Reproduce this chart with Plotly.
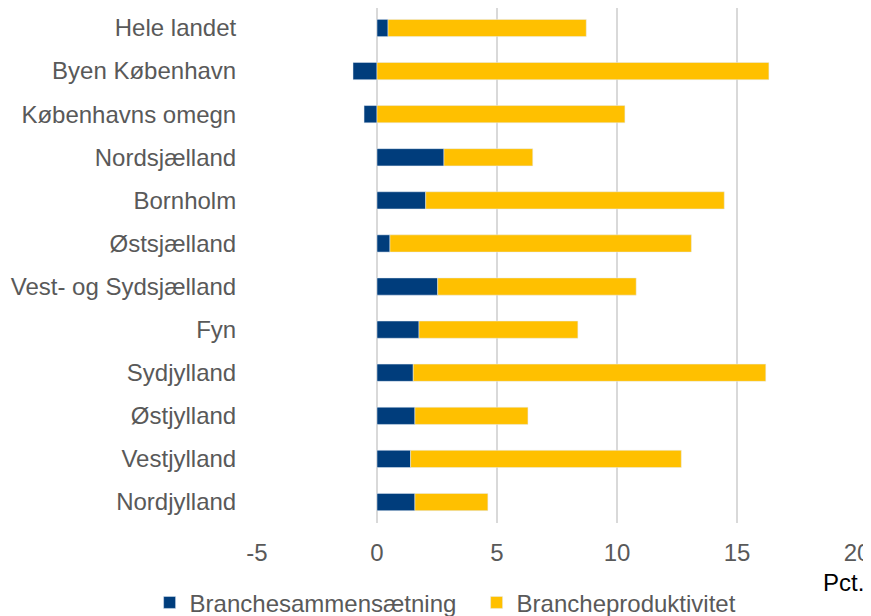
import plotly.graph_objects as go

regions = ["Hele landet", "Byen København", "Københavns omegn", "Nordsjælland",
           "Bornholm", "Østsjælland", "Vest- og Sydsjælland", "Fyn",
           "Sydjylland", "Østjylland", "Vestjylland", "Nordjylland"]
sammensaetning = [0.46, -1.0, -0.54, 2.79, 2.03, 0.54, 2.53, 1.75, 1.51, 1.58, 1.40, 1.58]
produktivitet = [8.26, 16.33, 10.33, 3.70, 12.44, 12.56, 8.27, 6.62, 14.69, 4.71, 11.28, 3.04]

x_ticks = [-5, 0, 5, 10, 15, 20]
x_ticktext = ["-5", "0", "5", "10", "15", "20"]

fig = go.Figure()
fig.add_trace(go.Bar(y=regions, x=sammensaetning, orientation="h",
                     name="Branchesammensætning", marker_color="#003D7C",
                     width=0.4))
fig.add_trace(go.Bar(y=regions, x=produktivitet, orientation="h",
                     name="Brancheproduktivitet", marker_color="#FFC000",
                     width=0.4))

fig.update_layout(
    width=863, height=608,
    barmode="relative",
    plot_bgcolor="white", paper_bgcolor="white",
    margin=dict(l=249, r=14, t=0, b=93, autoexpand=False),
    font=dict(family="Liberation Sans, Arial, sans-serif", size=24, color="#595959"),
    xaxis=dict(range=[-5, 20], tickvals=x_ticks, ticktext=x_ticktext, showgrid=True,
               gridcolor="#D9D9D9", gridwidth=2, zeroline=True,
               zerolinecolor="#D9D9D9", zerolinewidth=2,
               ticks="outside", ticklen=8, tickcolor="rgba(0,0,0,0)",
               showline=False, automargin=False),
    yaxis=dict(range=[11.487, -0.464], showgrid=False, zeroline=False,
               ticks="outside", ticklen=15, tickcolor="rgba(0,0,0,0)",
               automargin=False),
    showlegend=True,
    legend=dict(orientation="h", x=-0.179, xanchor="left", y=-0.155, yanchor="middle",
                entrywidth=282, entrywidthmode="pixels",
                font=dict(size=24, color="#595959"), traceorder="normal"),
    annotations=[dict(text="Pct.", x=1.015, xref="paper", xanchor="right",
                      y=-0.1165, yref="paper", yanchor="middle", showarrow=False,
                      font=dict(size=24, color="#000000"))],
)

fig.write_html("out.html")
